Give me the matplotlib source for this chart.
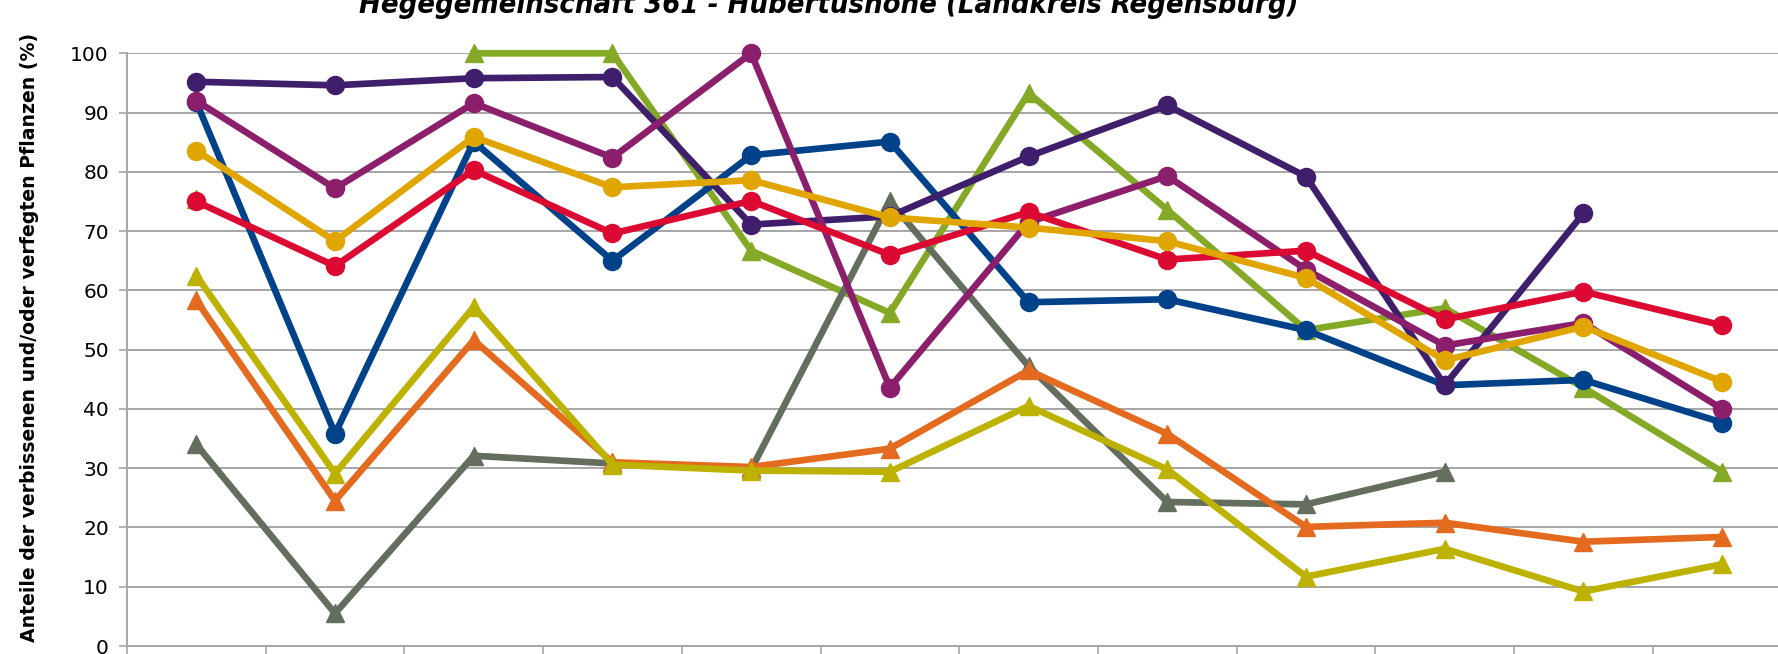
import numpy as np
import matplotlib
matplotlib.use("Agg")
import matplotlib.pyplot as plt

# Data (12 categories, labels not visible)
cats = list(range(12))
nan = np.nan

dunkelviolett = [95.2, 94.6, 95.8, 96.0, 71.1, 72.5, 82.6, 91.2, 79.2, 44.0, 73.0, nan]
blau = [91.8, 35.8, 85.1, 65.0, 82.8, 85.1, 58.0, 58.5, 53.3, 44.0, 44.9, 37.7]
magenta = [92.0, 77.2, 91.6, 82.4, 100.0, 43.6, 71.5, 79.3, 63.5, 50.7, 54.5, 40.0]
gelb = [83.6, 68.3, 85.9, 77.4, 78.6, 72.3, 70.6, 68.3, 62.1, 48.2, 53.9, 44.6]
rot = [75.0, 64.1, 80.3, 69.6, 75.1, 66.0, 73.2, 65.2, 66.7, 55.1, 59.8, 54.1]
gruen = [75.5, nan, 100.0, 100.0, 66.7, 56.2, 93.3, 73.6, 53.3, 57.0, 43.6, 29.4]
oliv = [62.5, 29.1, 57.2, 30.6, 29.6, 29.4, 40.5, 29.8, 11.7, 16.4, 9.2, 13.8]
orange = [58.3, 24.5, 51.6, 31.0, 30.2, 33.3, 46.5, 35.8, 20.1, 20.8, 17.6, 18.4]
grau = [34.0, 5.5, 32.1, 30.8, 29.8, 75.0, 47.2, 24.3, 23.9, 29.4, nan, nan]

title = "Hegegemeinschaft 361 - Hubertushöhe (Landkreis Regensburg)"
ylabel = "Anteile der verbissenen und/oder verfegten Pflanzen (%)"

# (values, colour, marker) in drawing order
series = [
    (gruen, "#84A926", "^"),
    (grau, "#636E5E", "^"),
    (orange, "#E36A1E", "^"),
    (oliv, "#BDB200", "^"),
    (blau, "#00428A", "o"),
    (dunkelviolett, "#3F1F6B", "o"),
    (magenta, "#8C1F6C", "o"),
    (rot, "#DC0A32", "o"),
    (gelb, "#E1A500", "o"),
]


def fit_width(txt, target_px, renderer, horizontal=True):
    # scale font size so the text covers target_px
    bb = txt.get_window_extent(renderer)
    cur = bb.width if horizontal else bb.height
    txt.set_fontsize(txt.get_fontsize() * target_px / cur)


fig = plt.figure(figsize=(17.78, 6.54), dpi=100)
ax = fig.add_axes([0.0714, 0.0122, 0.9362, 0.9063])

for vals, col, mk in series:
    ax.plot(cats, vals, color=col, lw=4.8, marker=mk, ms=13,
            markeredgecolor=col, clip_on=False, zorder=3)

ax.set_xlim(-0.5, 11.5)
ax.set_ylim(0, 100)
ax.set_yticks(np.arange(0, 101, 10))
ax.set_xticks(np.arange(-0.5, 12, 1))
ax.set_xticklabels([])
ax.grid(axis="y", color="#A6A6A6", lw=1.4)
ax.set_axisbelow(True)

for s in ["top", "right"]:
    ax.spines[s].set_visible(False)
for s in ["left", "bottom"]:
    ax.spines[s].set_color("#A6A6A6")
    ax.spines[s].set_linewidth(1.4)

ax.tick_params(axis="x", direction="out", length=6, color="#A6A6A6", width=1.2)
ax.tick_params(axis="y", direction="out", length=6, color="#A6A6A6", width=1.2,
               labelsize=14.5, pad=7)

yl = ax.set_ylabel(ylabel, fontsize=14, fontweight="bold")
ax.yaxis.set_label_coords(-0.053, 0.52)

tt = fig.text(0.466, 0.992, title, ha="center", va="center", fontsize=20,
              fontweight="bold", fontstyle="italic", fontstretch="condensed")

fig.canvas.draw()
r = fig.canvas.get_renderer()
fit_width(tt, 938, r)
fit_width(yl, 612, r, horizontal=False)

fig.savefig("out.png", dpi=100)
